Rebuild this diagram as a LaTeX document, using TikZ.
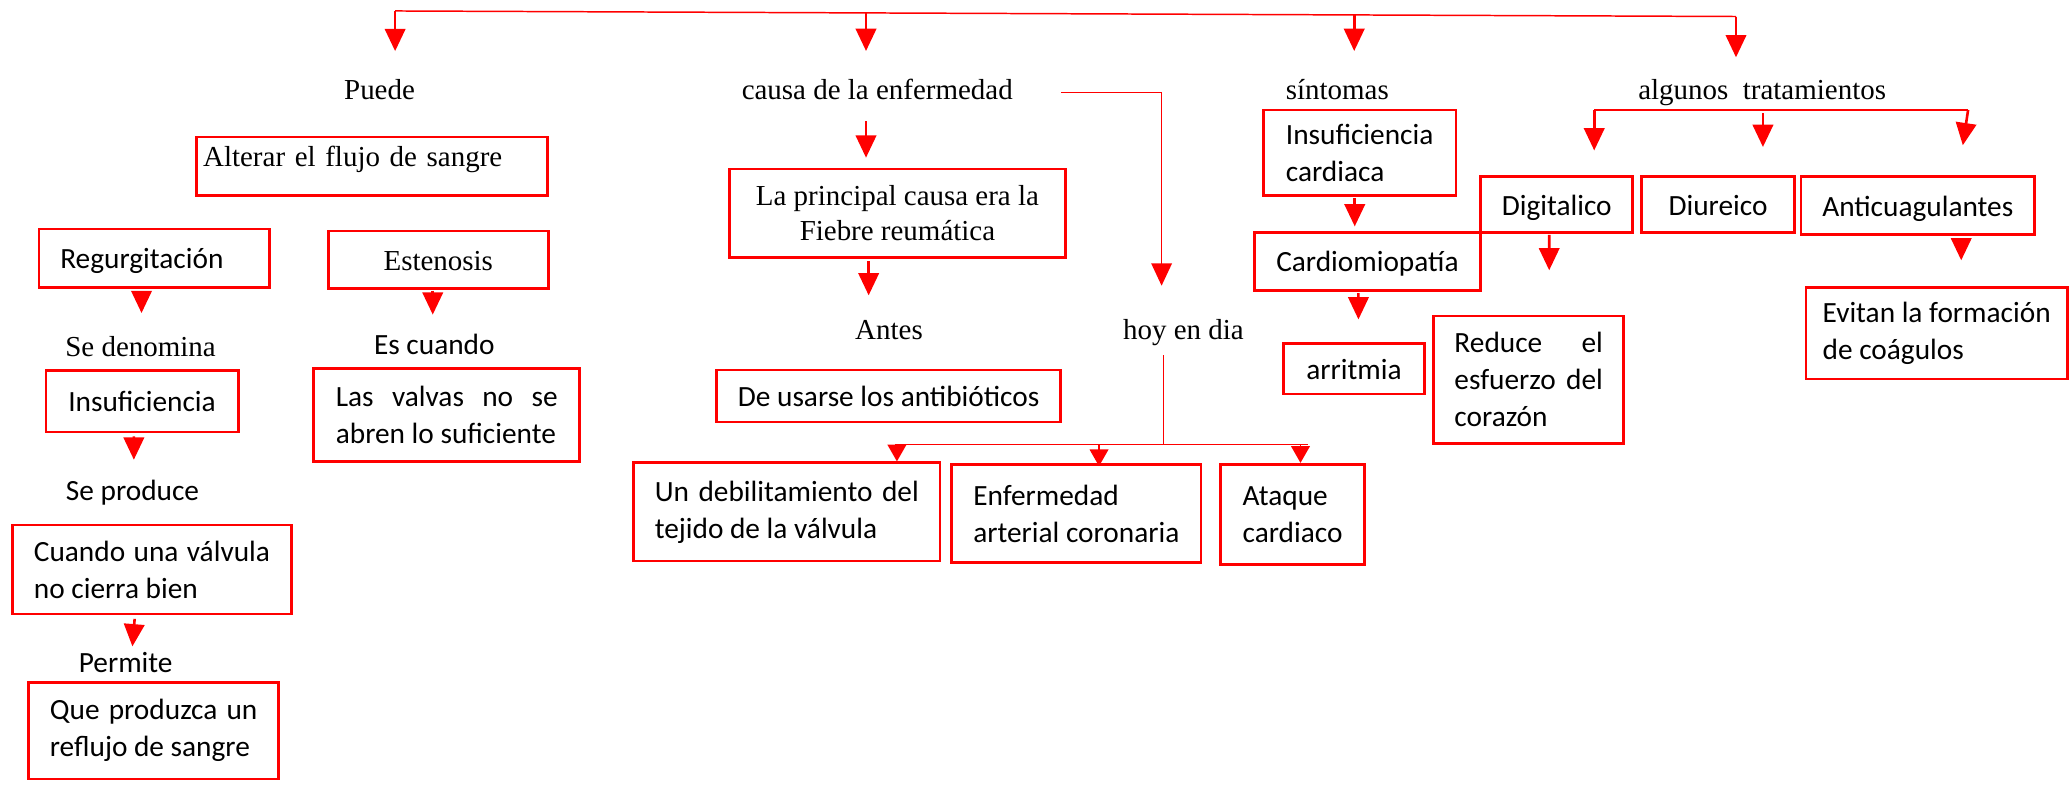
\documentclass[tikz,border=0pt]{standalone}
\usepackage{fontspec}
\setmainfont{Liberation Serif}
\newfontfamily\carlito{Carlito}
\usetikzlibrary{arrows.meta}
\tikzset{
box/.style={draw=red, line width=1.5pt, rectangle, inner sep=0pt}, % red frames
one/.style={text height=0.42cm, text depth=0.02cm}, % frames with one line of text
ser/.style={font=\rmfamily\fontsize{15.6pt}{18.5pt}\selectfont},
cal/.style={font=\carlito\fontsize{15.8pt}{19.9pt}\selectfont},
lbl/.style={inner sep=0pt, text height=0.4cm, text depth=0.1cm, anchor=base}, % loose words
arr/.style={red, line width=1.4pt, -{Triangle[length=12pt,width=11pt]}},
link/.style={red, line width=0.8pt},
}
\begin{document}
\begin{tikzpicture}[x=0.025cm, y=-0.025cm]
\path[use as bounding box, fill=white] (0,0) rectangle (1568,594);

% left branch
\node[lbl, ser] (puede) at (287.5,75) {Puede};
\node[box, ser, minimum width=6.64cm, minimum height=1.11cm, text width=6.4cm, align=left, text height=0.4cm, text depth=0.385cm] (alterar) at (281.9,126) {Alterar el flujo de sangre};
\node[box, cal, one, minimum width=4.36cm, minimum height=1.105cm, text width=3.55cm, align=left] (regurg) at (116.7,195.6) {Regurgitación};
\node[box, ser, one, minimum width=4.17cm, minimum height=1.085cm] (esten) at (332,196.7) {Estenosis};
\node[lbl, ser] (denom) at (106.5,269.7) {Se denomina};
\node[lbl, cal] (escuando) at (329,268.2) {Es cuando};
\node[box, cal, one, minimum width=3.64cm, minimum height=1.17cm] (insuf) at (107.6,303.8) {Insuficiencia};
\node[box, cal, minimum width=5.035cm, minimum height=1.75cm, text width=4.2cm, align=justify] (valvas) at (338.4,314.3) {Las valvas no se\linebreak abren lo suficiente};
\node[lbl, cal] (seprod) at (100.4,378.8) {Se produce};
\node[box, cal, minimum width=5.29cm, minimum height=1.685cm, text width=4.47cm, align=justify] (cuando) at (115.1,431.4) {Cuando una válvula\linebreak no cierra bien};
\node[lbl, cal] (permite) at (95.2,509.6) {Permite};
\node[box, cal, minimum width=4.73cm, minimum height=1.83cm, text width=3.93cm, align=justify] (que) at (116.4,553.5) {Que produzca un\linebreak reflujo de sangre};

% middle branch
\node[lbl, ser] (causa) at (664.5,75.3) {causa de la enfermedad};
\node[box, ser, minimum width=6.36cm, minimum height=1.675cm, align=center] (fiebre) at (679.8,161.5) {La principal causa era la\\ Fiebre reumática};
\node[lbl, ser] (antes) at (673.4,257.1) {Antes};
\node[lbl, ser] (hoy) at (896.4,257.1) {hoy en dia};
\node[box, cal, one, minimum width=6.52cm, minimum height=0.985cm] (antib) at (673.1,300) {De usarse los antibióticos};
\node[box, cal, minimum width=5.8cm, minimum height=1.86cm, text width=5cm, align=justify] (debil) at (596,387.8) {Un debilitamiento del\linebreak tejido de la válvula};
\node[box, cal, minimum width=4.72cm, minimum height=1.86cm, align=left] (enferm) at (815.3,389) {Enfermedad\\ arterial coronaria};
\node[box, cal, minimum width=2.715cm, minimum height=1.895cm, align=left] (ataque) at (979.1,389.6) {Ataque\\ cardiaco};

% right branch
\node[lbl, ser] (sint) at (1013,75.3) {síntomas};
\node[box, cal, minimum width=3.65cm, minimum height=1.62cm, align=left] (insufcard) at (1029.9,115.75) {Insuficiencia\\ cardiaca};
\node[box, cal, one, minimum width=4.29cm, minimum height=1.0925cm] (cardio) at (1035.8,197.9) {Cardiomiopatía};
\node[box, cal, one, minimum width=2.667cm, minimum height=0.9625cm] (arrit) at (1025.65,279.25) {arritmia};
\node[lbl, ser] (algun) at (1334.8,75.3) {algunos\ \ tratamientos};
\node[box, cal, one, minimum width=2.88cm, minimum height=1.055cm] (digital) at (1179.2,154.9) {Digitalico};
\node[box, cal, one, minimum width=2.9cm, minimum height=1.055cm] (diur) at (1301.4,154.9) {Diureico};
\node[box, cal, one, minimum width=4.425cm, minimum height=1.0925cm] (anti) at (1452.7,155.7) {Anticuagulantes};
\node[box, cal, minimum width=3.6cm, minimum height=2.4125cm, text width=2.81cm, align=justify] (reduce) at (1157.95,287.65) {Reduce el\linebreak esfuerzo del\linebreak corazón};
\node[box, cal, minimum width=4.95cm, minimum height=1.7325cm, align=left] (evitan) at (1467,252.4) {Evitan la formación\\ de coágulos};

% top line
\coordinate (top1) at (299.3,8.3);
\coordinate (top2) at (656,9.8);
\coordinate (top3) at (1025.8,11.3);
\coordinate (top4) at (1315,12.5);
\draw[link] (top1) -- (top4);
\draw[arr, shorten >=0.5cm] (top1) -- (top1 |- puede.north);
\draw[arr, shorten >=0.51cm] (top2) -- (top2 |- causa.north);
\draw[arr, shorten >=0.51cm] (top3) -- (top3 |- sint.north);
\draw[arr, shorten >=0.39cm] (top4) -- (top4 |- algun.north);

% left arrows
\draw[arr] ([shift={(-9.5,2)}]regurg.south) -- ([shift={(0.7,-16.3)}]denom.north);
\draw[arr] ([shift={(-4.2,0.6)}]esten.south) -- ([shift={(-1.2,-13.6)}]escuando.north);
\draw[arr] ([shift={(-6.2,2.3)}]insuf.south) -- ([shift={(1,-14.3)}]seprod.north);
\draw[arr] ([shift={(-13.1,2.6)}]cuando.south) -- ([shift={(5.1,-3.7)}]permite.north);

% middle arrows
\draw[arr] ([shift={(-8.5,12.4)}]causa.south) -- ([shift={(-23.8,-7.5)}]fiebre.north);
\draw[arr] ([shift={(-21.8,2)}]fiebre.south) -- ([shift={(-15.4,-17.1)}]antes.north);
\draw[arr, line width=0.9pt] ([shift={(36.3,0.7)}]causa.east) -| ([shift={(-16.5,-24.4)}]hoy.north);
\coordinate (hj) at (881.5,336.6);
\coordinate (hl) at (677.9,336.6);
\coordinate (hr) at (990.9,336.6);
\coordinate (h1) at (679.4,336.6);
\coordinate (h2) at (832.5,336.6);
\coordinate (h3) at (985.1,336.6);
\draw[link] ([shift={(-14.9,7.8)}]hoy.south) -- (hj);
\draw[link] (hl) -- (hr);
\draw[arr, line width=1pt, -{Triangle[length=9pt,width=10pt]}] (h1) -- (h1 |- debil.north);
\draw[arr, line width=1pt, -{Triangle[length=9pt,width=10pt]}, shorten >=-0.06cm] (h2) -- (h2 |- enferm.north);
\draw[arr, line width=1pt, -{Triangle[length=9pt,width=10pt]}] (h3) -- (h3 |- ataque.north);

% right arrows
\draw[arr] ([shift={(-3.7,0.8)}]insufcard.south) -- ([shift={(-9.6,-3.5)}]cardio.north);
\draw[arr] ([shift={(-6.8,1.3)}]cardio.south) -- ([shift={(3.35,-17)}]arrit.north);
\coordinate (g1) at (1207.6,83.3);
\coordinate (g2) at (1335.4,83.3);
\coordinate (g3) at (1490.8,83.3);
\draw[link] (g1) -- (g3);
\draw[arr, shorten >=0.47cm] (g1) -- (g1 |- digital.north);
\draw[arr, shorten <=0.065cm, shorten >=0.535cm] (g2) -- (g2 |- diur.north);
\draw[arr] (g3) -- ([shift={(34.1,-22.8)}]anti.north);
\draw[arr] ([shift={(-5.7,0.8)}]digital.south) -- ([shift={(15.55,-33.6)}]reduce.north);
\draw[arr] ([shift={(32.9,2.3)}]anti.south) -- ([shift={(18.6,-19.5)}]evitan.north);

\end{tikzpicture}
\end{document}
